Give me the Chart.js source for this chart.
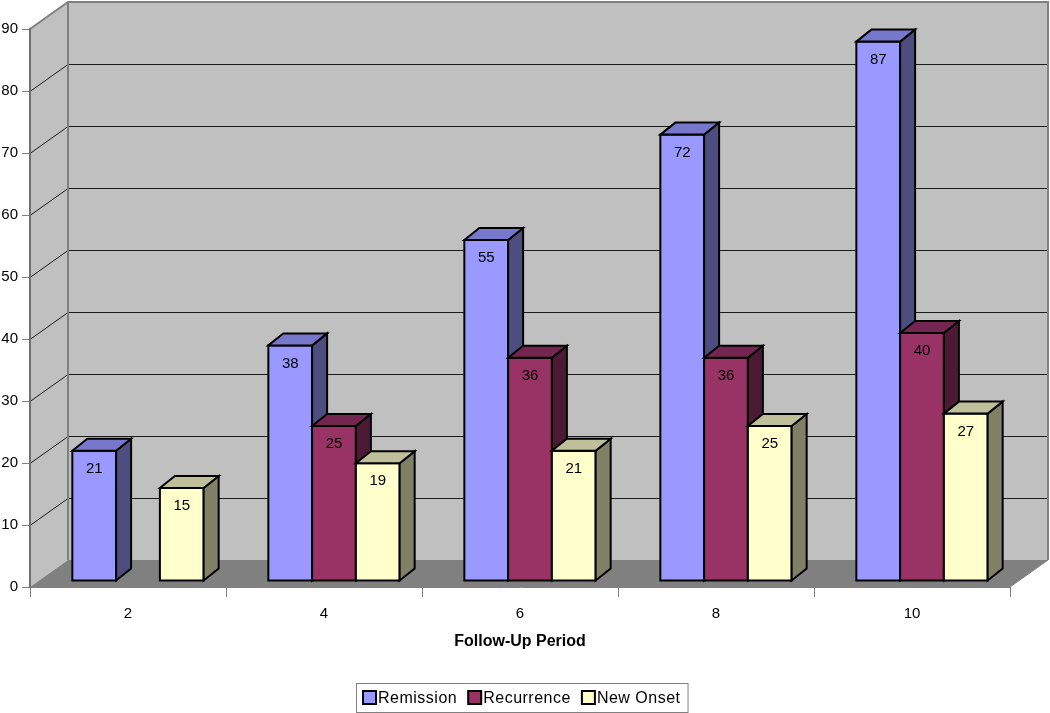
<!DOCTYPE html>
<html>
<head>
<meta charset="utf-8">
<script src="https://cdn.jsdelivr.net/npm/chart.js@4.4.0/dist/chart.umd.min.js"></script>
<style>
  body { margin: 0; background: #fff; }
</style>
</head>
<body>
<canvas id="chart" width="1050" height="713"></canvas>
<script>
// follow-up periods and counts per outcome
const categories = ['2', '4', '6', '8', '10'];
const remission = [21, 38, 55, 72, 87];
const recurrence = [null, 25, 36, 36, 40];
const newOnset = [15, 19, 21, 25, 27];
const yMin = 0, yMax = 90, yStep = 10;

const WALL = { dx: 38, dy: -27 };   // depth of the back wall
const FRONT = { dx: 10, dy: -6 };   // where bar fronts sit in depth
const BAR = { dx: 15, dy: -12 };    // depth of each bar
const FONT = 'Arial, "Liberation Sans", sans-serif';

function poly(ctx, pts, fill, stroke, lw) {
    ctx.beginPath();
    ctx.moveTo(pts[0][0], pts[0][1]);
    for (let i = 1; i < pts.length; i++) ctx.lineTo(pts[i][0], pts[i][1]);
    ctx.closePath();
    if (fill) { ctx.fillStyle = fill; ctx.fill(); }
    if (stroke) { ctx.strokeStyle = stroke; ctx.lineWidth = lw || 1; ctx.stroke(); }
}

const walls = {
    id: 'walls',
    beforeDraw(chart) {
        const ctx = chart.ctx;
        const ys = chart.scales.y;
        const L = chart.chartArea.left, R = chart.chartArea.right;
        const top = ys.getPixelForValue(yMax), bot = ys.getPixelForValue(yMin);
        const dx = WALL.dx, dy = WALL.dy;
        ctx.save();
        poly(ctx, [[L, top], [L + dx, top + dy], [L + dx, bot + dy], [L, bot]], '#c0c0c0');
        poly(ctx, [[L + dx, top + dy], [R + dx, top + dy], [R + dx, bot + dy], [L + dx, bot + dy]], '#c0c0c0');
        poly(ctx, [[L, bot], [R, bot], [R + dx, bot + dy], [L + dx, bot + dy]], '#808080');
        // gridlines on side and back wall
        ctx.strokeStyle = '#1a1a1a';
        ctx.lineWidth = 1;
        ys.ticks.forEach(t => {
            if (t.value <= yMin || t.value >= yMax) return;
            const y = ys.getPixelForValue(t.value) + 0.5;
            ctx.beginPath();
            ctx.moveTo(L, y);
            ctx.lineTo(L + dx, y + dy);
            ctx.lineTo(R + dx, y + dy);
            ctx.stroke();
        });
        ctx.strokeStyle = '#808080';
        ctx.lineWidth = 2;
        ctx.beginPath();
        ctx.moveTo(L, top);
        ctx.lineTo(L + dx, top + dy);
        ctx.lineTo(R + dx, top + dy);
        ctx.lineTo(R + dx, bot + dy);
        ctx.moveTo(L + dx, top + dy);
        ctx.lineTo(L + dx, bot + dy);
        ctx.stroke();
        ctx.lineWidth = 1;
        ctx.beginPath();
        ctx.moveTo(R, bot);
        ctx.lineTo(R + dx, bot + dy);
        ctx.stroke();
        ctx.restore();
    }
};

// draw bars left to right (dataset 0 first) with depth faces
const bars3d = {
    id: 'bars3d',
    beforeDatasetDraw() {
        return false;
    },
    afterDatasetsDraw(chart) {
        const ctx = chart.ctx;
        ctx.save();
        ctx.translate(FRONT.dx, FRONT.dy);
        chart.data.datasets.forEach((ds, di) => {
            const meta = chart.getDatasetMeta(di);
            meta.data.forEach((bar, i) => {
                if (ds.data[i] == null) return;
                bar.draw(ctx);
                const p = bar.getProps(['x', 'y', 'base', 'width'], true);
                const l = p.x - p.width / 2, r = p.x + p.width / 2;
                ctx.lineJoin = 'miter';
                ctx.lineWidth = 2;
                ctx.strokeStyle = '#000';
                ctx.strokeRect(l, p.y, p.width, p.base - p.y);
                poly(ctx, [[r, p.y], [r + BAR.dx, p.y + BAR.dy], [r + BAR.dx, p.base + BAR.dy], [r, p.base]], ds.sideColor, '#000', 2);
                poly(ctx, [[l, p.y], [l + BAR.dx, p.y + BAR.dy], [r + BAR.dx, p.y + BAR.dy], [r, p.y]], ds.topColor, '#000', 2);
                ctx.fillStyle = '#000';
                ctx.font = '15px ' + FONT;
                ctx.textAlign = 'center';
                ctx.textBaseline = 'middle';
                ctx.fillText(String(ds.data[i]), p.x, p.y + 18);
            });
        });
        ctx.restore();
    }
};

const boxLegend = {
    id: 'boxLegend',
    afterDraw(chart) {
        const ctx = chart.ctx;
        const sets = chart.data.datasets;
        ctx.save();
        ctx.font = '16px ' + FONT;
        ctx.letterSpacing = '0.5px';
        const sw = 13, gapText = 2, gapItem = 11, padX = 7;
        const widths = sets.map(d => ctx.measureText(d.label).width);
        let total = padX * 2 + gapItem * (sets.length - 1);
        widths.forEach(w => total += sw + gapText + w);
        const cx = (chart.chartArea.left + chart.chartArea.right) / 2 + 2;
        const bx = Math.round(cx - total / 2), by = 683, bh = 29;
        ctx.fillStyle = '#fff';
        ctx.fillRect(bx, by, total, bh);
        ctx.strokeStyle = '#808080';
        ctx.lineWidth = 1;
        ctx.strokeRect(bx + 0.5, by + 0.5, total, bh);
        let x = bx + padX;
        const cy = by + bh / 2;
        sets.forEach((d, i) => {
            ctx.fillStyle = d.backgroundColor;
            ctx.fillRect(x, cy - sw / 2, sw, sw);
            ctx.strokeStyle = '#000';
            ctx.lineWidth = 2;
            ctx.strokeRect(x, cy - sw / 2, sw, sw);
            ctx.fillStyle = '#000';
            ctx.textAlign = 'left';
            ctx.textBaseline = 'middle';
            ctx.fillText(d.label, x + sw + gapText, cy + 1);
            x += sw + gapText + widths[i] + gapItem;
        });
        ctx.restore();
    }
};

const tickFont = { family: FONT, size: 15 };

new Chart(document.getElementById('chart'), {
    type: 'bar',
    data: {
        labels: categories,
        datasets: [
            { label: 'Remission', data: remission, backgroundColor: '#9999ff', sideColor: '#4d4d80', topColor: '#7777cc' },
            { label: 'Recurrence', data: recurrence, backgroundColor: '#993366', sideColor: '#4d1a33', topColor: '#732650' },
            { label: 'New Onset', data: newOnset, backgroundColor: '#ffffcc', sideColor: '#808066', topColor: '#bfbf99' }
        ]
    },
    options: {
        responsive: false,
        animation: false,
        layout: { padding: { top: 29, right: 40, left: 0, bottom: 0 } },
        datasets: {
            bar: { borderWidth: 0, categoryPercentage: 0.67, barPercentage: 1.0, clip: false, inflateAmount: 0 }
        },
        plugins: {
            legend: { display: false },
            tooltip: { enabled: false }
        },
        scales: {
            x: {
                afterFit(scale) { scale.height = 126; },
                grid: { offset: true, drawOnChartArea: false, tickLength: 10, color: '#808080' },
                border: { color: '#808080', width: 1 },
                ticks: { color: '#000', font: tickFont, padding: 8 },
                title: {
                    display: true,
                    text: 'Follow-Up Period',
                    color: '#000',
                    font: { family: FONT, size: 16, weight: 'bold' },
                    padding: { top: 0, bottom: 61.4 }
                }
            },
            y: {
                min: yMin,
                max: yMax,
                afterFit(scale) { scale.width = 30; },
                grid: { drawOnChartArea: false, tickLength: 8, color: '#808080' },
                border: { color: '#707070', width: 2 },
                ticks: { stepSize: yStep, color: '#000', font: tickFont, padding: 4 }
            }
        }
    },
    plugins: [walls, bars3d, boxLegend]
});
</script>
</body>
</html>
